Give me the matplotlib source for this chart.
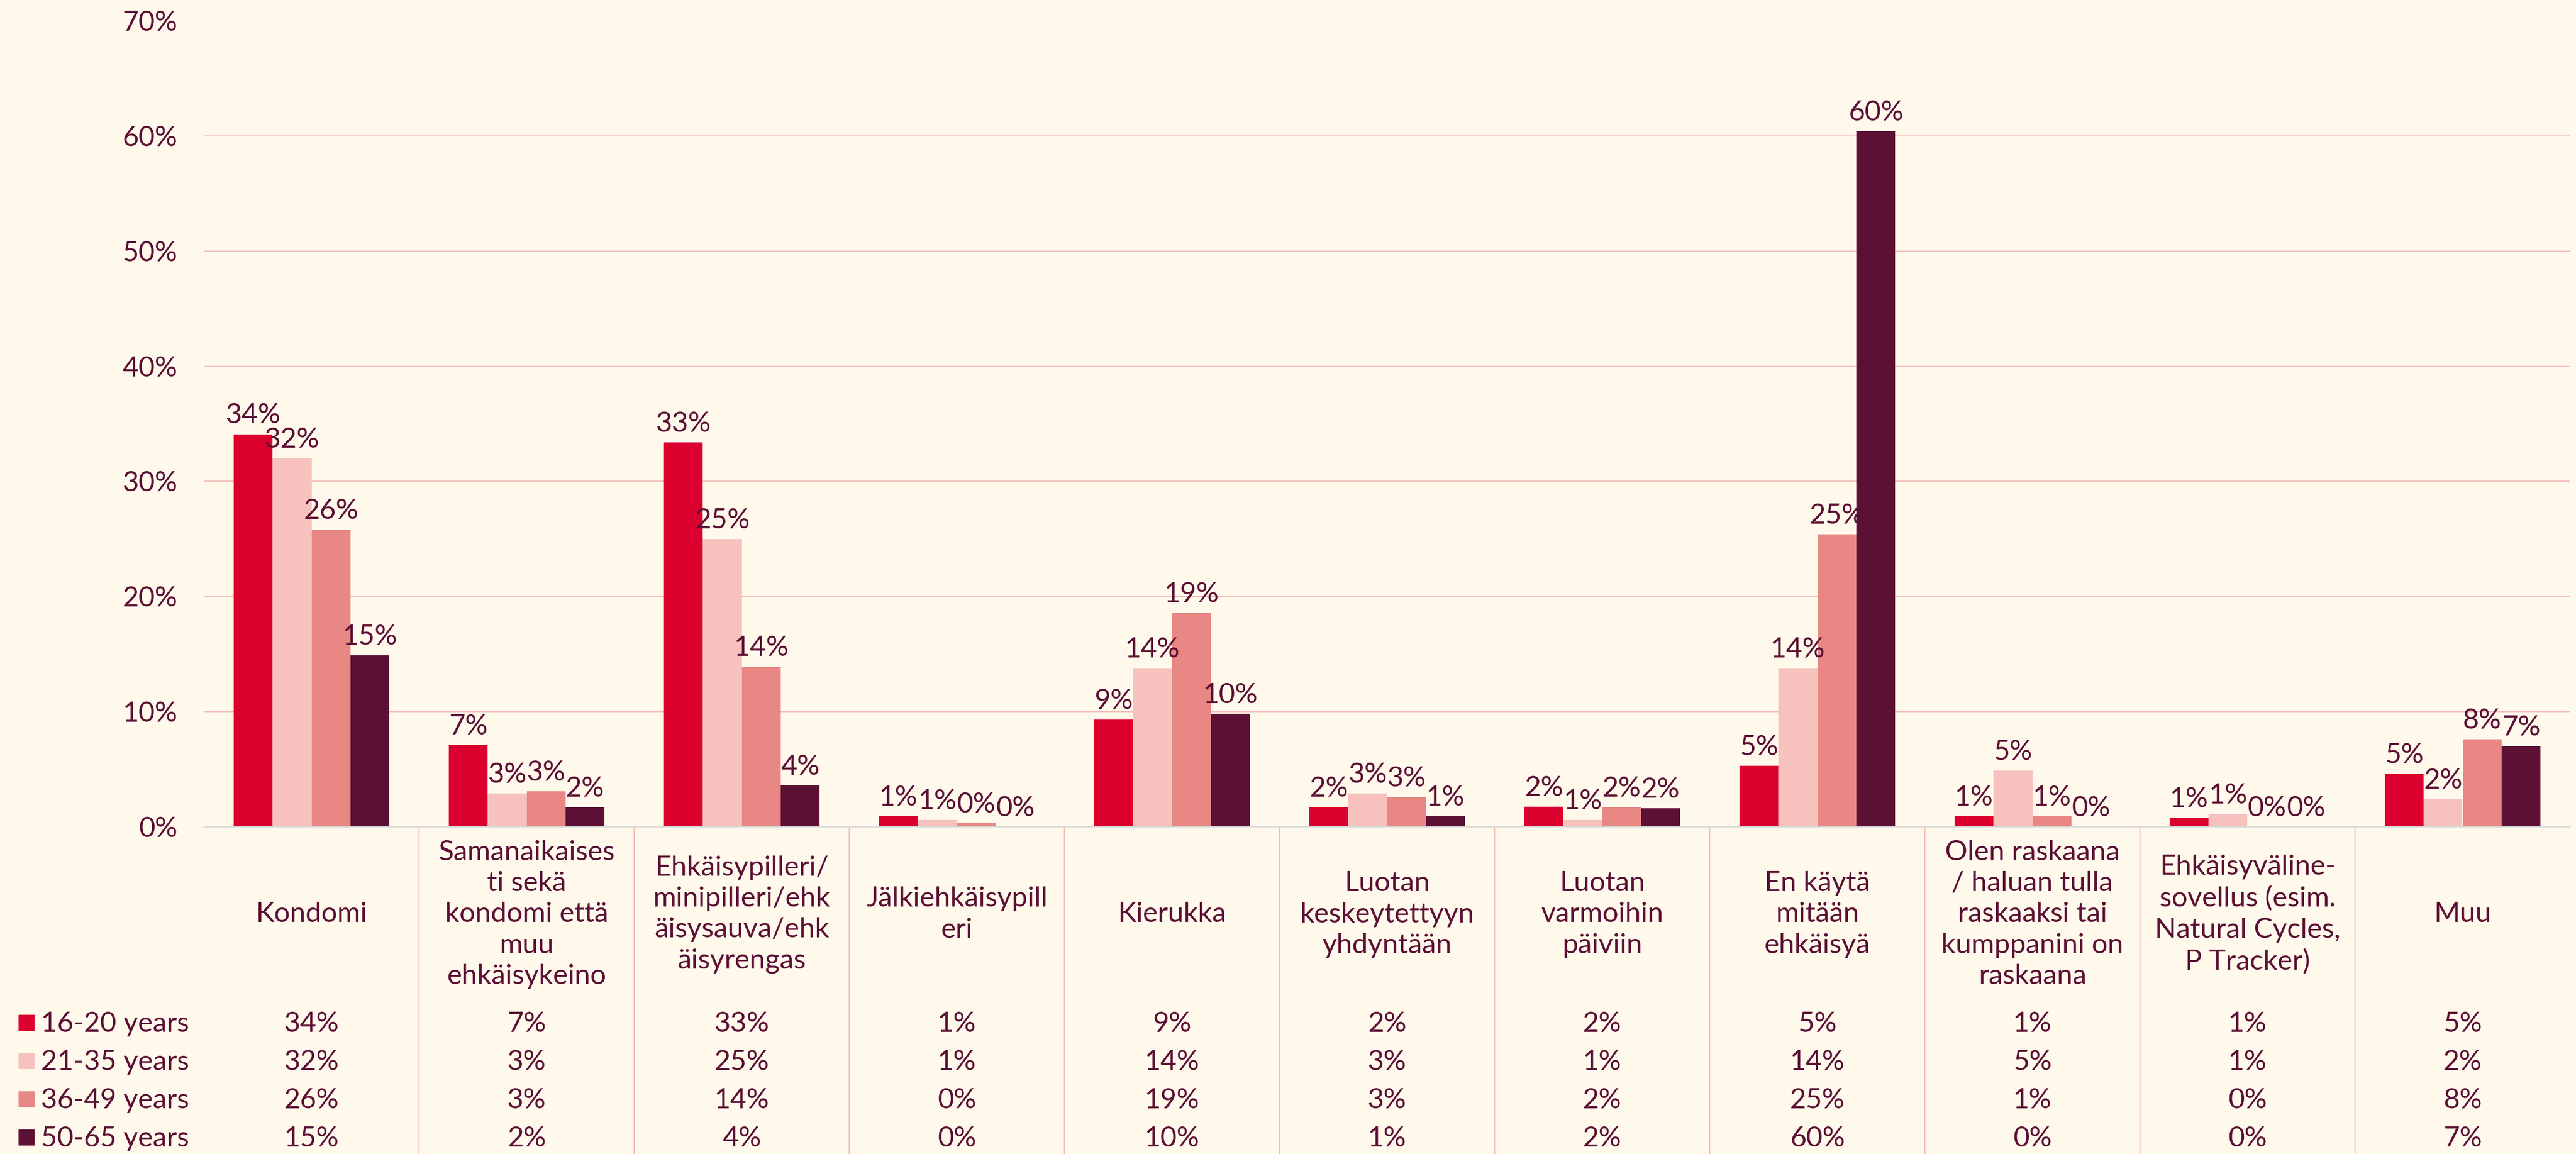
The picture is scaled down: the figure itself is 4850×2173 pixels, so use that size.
import matplotlib.pyplot as plt
import matplotlib.transforms as mtransforms
from matplotlib.patches import Rectangle
from matplotlib.ticker import FuncFormatter
import numpy as np

categories = ['Kondomi',
              'Samanaikaises\nti sekä\nkondomi että\nmuu\nehkäisykeino',
              'Ehkäisypilleri/\nminipilleri/ehk\näisysauva/ehk\näisyrengas',
              'Jälkiehkäisypill\neri',
              'Kierukka',
              'Luotan\nkeskeytettyyn\nyhdyntään',
              'Luotan\nvarmoihin\npäiviin',
              'En käytä\nmitään\nehkäisyä',
              'Olen raskaana\n/ haluan tulla\nraskaaksi tai\nkumppanini on\nraskaana',
              'Ehkäisyväline-\nsovellus (esim.\nNatural Cycles,\nP Tracker)',
              'Muu']
groups = ['16-20 years', '21-35 years', '36-49 years', '50-65 years']
# values in percent
age_16_20 = [34.1, 7.1, 33.4, 0.9, 9.3, 1.7, 1.75, 5.3, 0.9, 0.8, 4.6]
age_21_35 = [32.0, 2.9, 25.0, 0.6, 13.8, 2.9, 0.6, 13.8, 4.9, 1.1, 2.4]
age_36_49 = [25.8, 3.1, 13.9, 0.3, 18.6, 2.6, 1.7, 25.4, 0.9, 0.0, 7.6]
age_50_65 = [14.9, 1.7, 3.6, 0.0, 9.8, 0.9, 1.6, 60.4, 0.0, 0.0, 7.0]
series = [age_16_20, age_21_35, age_36_49, age_50_65]

colors = ['#DC002E', '#F7C2BE', '#E88783', '#5C1034']
TXT = '#5C1034'
BG = '#FFF9EC'
GRID = '#F4C0BB'
FS = 38

plt.rcParams['font.family'] = ['Lato', 'DejaVu Sans']

W, H = 4850, 2173
fig = plt.figure(figsize=(W/100, H/100), dpi=100, facecolor=BG)
ax = fig.add_axes([384/W, 1-1557/H, (4839-384)/W, (1557-39)/H])
ax.set_facecolor(BG)

x = np.arange(len(categories))
bw = 0.181
for i, (vals, c) in enumerate(zip(series, colors)):
    pos = x + (i-1.5)*bw
    v = np.array(vals)/100
    ax.bar(pos, v, bw, color=c, zorder=2)
    for px, py in zip(pos, v):
        ax.annotate(f'{py*100:.0f}%', (px, py), xytext=(0, 8), textcoords='offset points',
                    ha='center', va='bottom', fontsize=FS, color=TXT, zorder=3)

ax.set_xlim(-0.5, 10.5)
ax.set_ylim(0, 0.7)
ax.set_yticks(np.arange(0, 0.71, 0.1))
ax.yaxis.set_major_formatter(FuncFormatter(lambda v, p: f'{v*100:.0f}%'))
ax.set_xticks([])
ax.tick_params(axis='y', length=0, pad=36, labelsize=FS, labelcolor=TXT)
for s in ['top', 'right', 'left']:
    ax.spines[s].set_visible(False)
ax.spines['bottom'].set_color('#D9D9D9')
ax.spines['bottom'].set_linewidth(1.6)
ax.yaxis.grid(True, color=GRID, lw=1.6)
ax.set_axisbelow(True)

# data table below the chart
trans = mtransforms.blended_transform_factory(ax.transData, fig.transFigure)
for i, cat in enumerate(categories):
    ax.text(i, 1-1722/H, cat, transform=trans, ha='center', va='center',
            multialignment='center', fontsize=FS, color=TXT, linespacing=1.3, clip_on=False)
for k in range(len(categories)-1):
    ax.plot([k+0.5, k+0.5], [0, 1-1557/H], transform=trans, color=GRID, lw=1.6, clip_on=False)

row_base = [1943, 2015, 2087, 2159]
for r, (g, vals, c) in enumerate(zip(groups, series, colors)):
    yb = 1 - row_base[r]/H
    fig.add_artist(Rectangle((35/W, 1-(row_base[r]-3.5)/H), 29/W, 29/H,
                             transform=fig.transFigure, color=c))
    fig.text(77/W, yb, g, va='baseline', ha='left', fontsize=FS, color=TXT)
    for i, v in enumerate(vals):
        ax.text(i, yb, f'{v:.0f}%', transform=trans, ha='center', va='baseline',
                fontsize=FS, color=TXT, clip_on=False)

fig.savefig('out.png', dpi=100, facecolor=BG)
